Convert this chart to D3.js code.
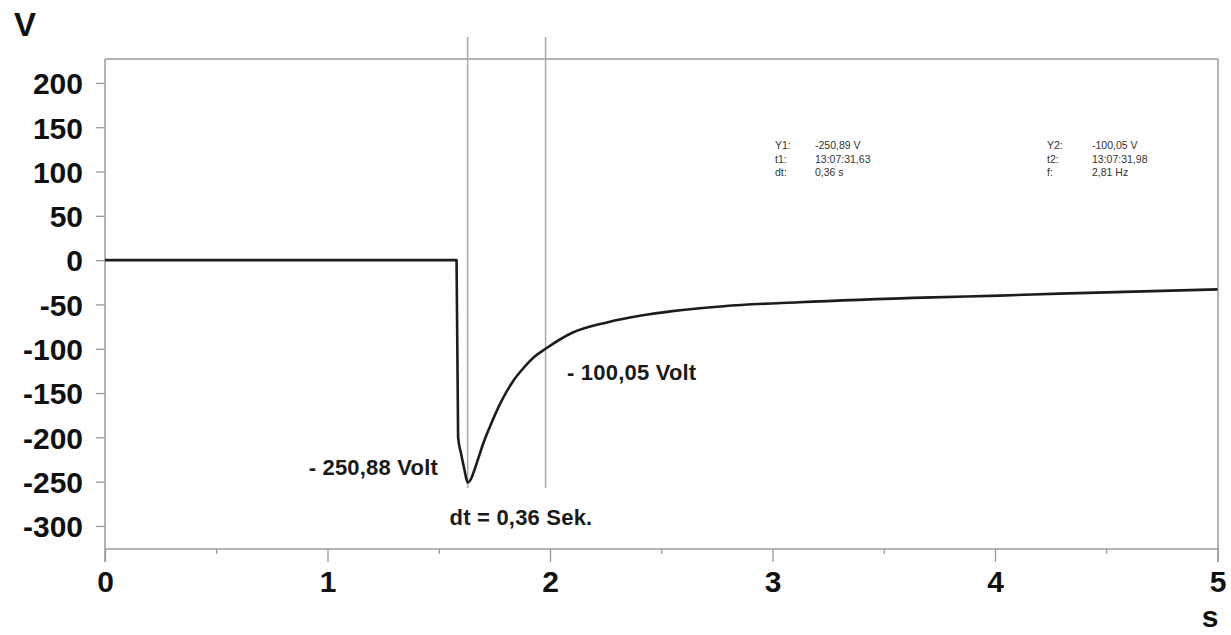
<!DOCTYPE html>
<html>
<head>
<meta charset="utf-8">
<script src="https://cdn.jsdelivr.net/npm/d3@7/dist/d3.min.js"></script>
<style>
  html, body { margin: 0; padding: 0; background: #fff; }
  svg { display: block; }
  text { font-family: "Liberation Sans", Arial, Helvetica, sans-serif; }
</style>
</head>
<body>
<svg id="chart" width="1231" height="635"></svg>
<script>
// ---- data ----
const timeS = [0, 0.5, 1.0, 1.5, 1.58, 1.587, 1.60, 1.615, 1.63, 1.645, 1.66, 1.68, 1.70, 1.73, 1.78, 1.83, 1.88, 1.93, 1.98, 2.10, 2.26, 2.41, 2.55, 2.78, 3.12, 3.72, 4.02, 4.29, 5.0];
const voltV = [0, 0, 0, 0, 0, -200, -218, -236, -250.9, -247, -237, -222, -207, -188, -160, -138, -122, -109, -100.05, -82, -70, -62.5, -57.5, -52, -47.5, -42, -40, -37.8, -33];
const cursorTimes = [1.63, 1.98];
const yTickValues = [200, 150, 100, 50, 0, -50, -100, -150, -200, -250, -300];
const xMajorTicks = [0, 1, 2, 3, 4, 5];
const xMinorTicks = [0.5, 1.5, 2.5, 3.5, 4.5];
const annotationTexts = ["- 250,88 Volt", "- 100,05 Volt", "dt = 0,36 Sek."];
const infoLeft = [["Y1:", "-250,89 V"], ["t1:", "13:07:31,63"], ["dt:", "0,36 s"]];
const infoRight = [["Y2:", "-100,05 V"], ["t2:", "13:07:31,98"], ["f:", "2,81 Hz"]];

// ---- layout ----
const svg = d3.select("#chart");
const plotL = 105, plotR = 1218, plotT = 59, plotB = 549;
const x = d3.scaleLinear().domain([0, 5]).range([plotL, 1217.5]);
const y = d3.scaleLinear().domain([-326, 227]).range([plotB, plotT]);
const axisColor = "#9a9a9a";
const labelFont = "30px";
const fmt = d => String(d);

// frame: top & right borders
svg.append("line").attr("x1", plotL).attr("x2", plotR).attr("y1", plotT).attr("y2", plotT)
  .attr("stroke", axisColor).attr("stroke-width", 1.5);
svg.append("line").attr("x1", plotR).attr("x2", plotR).attr("y1", plotT).attr("y2", 562)
  .attr("stroke", axisColor).attr("stroke-width", 1.5);
// left axis line & bottom axis line
svg.append("line").attr("x1", plotL).attr("x2", plotL).attr("y1", plotT).attr("y2", 562)
  .attr("stroke", axisColor).attr("stroke-width", 1.5);
svg.append("line").attr("x1", plotL).attr("x2", plotR).attr("y1", plotB).attr("y2", plotB)
  .attr("stroke", axisColor).attr("stroke-width", 1.5);

// y axis
const yAxis = svg.append("g").attr("transform", `translate(${plotL},0)`)
  .call(d3.axisLeft(y).tickValues(yTickValues).tickSize(9).tickPadding(13).tickFormat(fmt));
yAxis.select(".domain").remove();
yAxis.selectAll("line").attr("stroke", axisColor).attr("stroke-width", 1.3);
yAxis.selectAll("text").attr("font-size", labelFont).attr("font-weight", "bold").attr("fill", "#111")
  .attr("font-family", '"Liberation Sans", Arial, sans-serif').attr("dy", "0.36em");

// x axis major
const xAxis = svg.append("g").attr("transform", `translate(0,${plotB})`)
  .call(d3.axisBottom(x).tickValues(xMajorTicks).tickSize(13).tickPadding(9).tickFormat(fmt));
xAxis.select(".domain").remove();
xAxis.selectAll("line").attr("stroke", axisColor).attr("stroke-width", 1.3);
xAxis.selectAll("text").attr("font-size", labelFont).attr("font-weight", "bold").attr("fill", "#111")
  .attr("font-family", '"Liberation Sans", Arial, sans-serif');
// x axis minor
const xMinor = svg.append("g").attr("transform", `translate(0,${plotB})`)
  .call(d3.axisBottom(x).tickValues(xMinorTicks).tickSize(5).tickFormat(""));
xMinor.select(".domain").remove();
xMinor.selectAll("line").attr("stroke", axisColor).attr("stroke-width", 1.3);

// axis unit labels
svg.append("text").attr("x", 25).attr("y", 36).attr("text-anchor", "middle")
  .attr("font-size", "33px").attr("font-weight", "bold").attr("fill", "#111").text("V");
svg.append("text").attr("x", 1210).attr("y", 627).attr("text-anchor", "middle")
  .attr("font-size", labelFont).attr("font-weight", "bold").attr("fill", "#111").text("s");

// cursor lines
svg.selectAll("line.cursor").data(cursorTimes).enter().append("line")
  .attr("class", "cursor")
  .attr("x1", d => x(d)).attr("x2", d => x(d))
  .attr("y1", 37).attr("y2", 488)
  .attr("stroke", "#aaaaaa").attr("stroke-width", 1.5);

// trace
const pts = timeS.map((t, i) => [t, voltV[i]]);
svg.append("path").datum(pts)
  .attr("fill", "none").attr("stroke", "#1c1c1c").attr("stroke-width", 2.6)
  .attr("stroke-linejoin", "round")
  .attr("d", d3.line().x(d => x(d[0])).y(d => y(d[1])).curve(d3.curveMonotoneX));

// annotations
const annFont = "22px";
function ann(txt, xx, yy, anchor) {
  svg.append("text").attr("x", xx).attr("y", yy).attr("text-anchor", anchor)
    .attr("font-size", annFont).attr("font-weight", "bold").attr("letter-spacing", "0.2px")
    .attr("fill", "#1a1a1a").text(txt);
}
ann(annotationTexts[0], 438, 475, "end");
ann(annotationTexts[1], 567, 380, "start");
ann(annotationTexts[2], 521, 525, "middle");

// cursor info block
function infoBlock(rows, xl, xv) {
  rows.forEach((r, i) => {
    const yy = 149 + i * 13.5;
    svg.append("text").attr("x", xl).attr("y", yy).attr("font-size", "10.5px").attr("fill", "#333").text(r[0]);
    svg.append("text").attr("x", xv).attr("y", yy).attr("font-size", "10.5px").attr("fill", "#333").text(r[1]);
  });
}
infoBlock(infoLeft, 775, 815);
infoBlock(infoRight, 1047, 1092);
</script>
</body>
</html>
